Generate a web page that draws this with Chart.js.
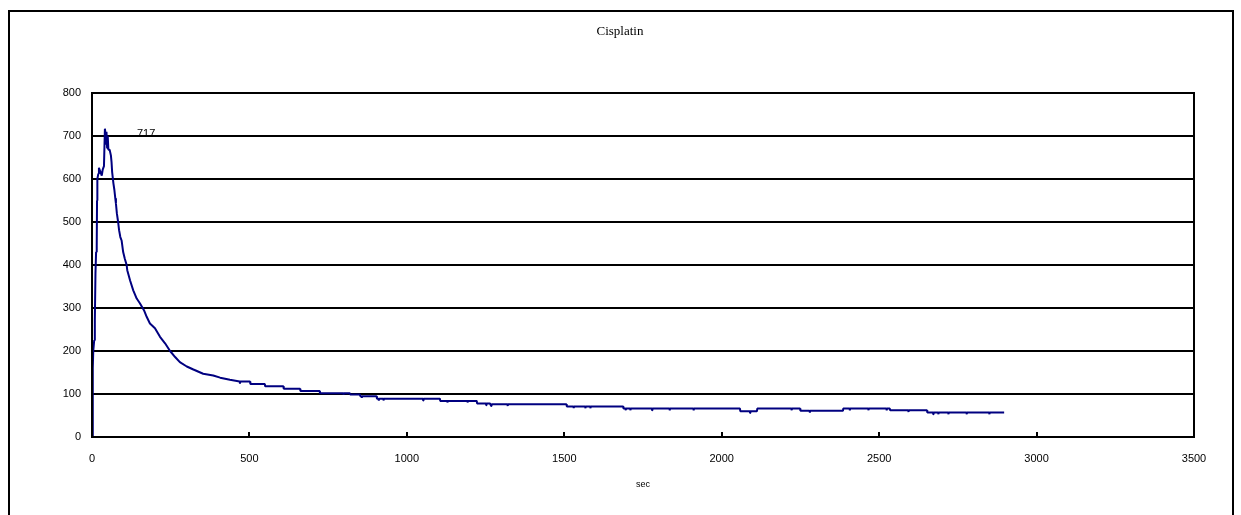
<!DOCTYPE html>
<html>
<head>
<meta charset="utf-8">
<script src="https://cdn.jsdelivr.net/npm/chart.js@4/dist/chart.umd.min.js"></script>
<style>
  html, body { margin: 0; padding: 0; background: #fff; }
  canvas { display: block; }
</style>
</head>
<body>
<canvas id="c" width="1241" height="515"></canvas>
<script>
// ---- Data ----
const chartTitle = 'Cisplatin';
const xAxisTitle = 'sec';
const xTicks = [0, 500, 1000, 1500, 2000, 2500, 3000, 3500];
const yTicks = [0, 100, 200, 300, 400, 500, 600, 700, 800];

const timeSec = [
  0, 2, 3, 4, 7, 9, 11, 13, 15, 16, 17, 20, 22, 26, 31, 34, 38, 41, 43, 44, 46, 48, 50, 52, 56,
  60, 62, 64, 68, 71, 74, 76, 79, 83, 86, 90, 94, 99, 104, 110, 112, 121, 131, 142, 152, 165,
  174, 184, 200, 216, 232, 248, 264, 279, 301, 322, 353, 385, 407, 438,
  469, 470, 471, 502, 503, 549, 550, 608, 609, 661, 662, 723, 724, 798, 799, 800, 819, 820,
  851, 852, 856, 857, 858, 904, 905, 910, 911, 912, 925, 926, 927, 1051, 1052, 1053, 1105, 1106,
  1128, 1129, 1130, 1192, 1193, 1194, 1222, 1223, 1251, 1252, 1253, 1264, 1265, 1267, 1268, 1269,
  1319, 1320, 1321, 1507, 1508, 1529, 1530, 1531, 1566, 1567, 1568, 1582, 1583, 1584, 1687, 1688,
  1694, 1695, 1696, 1709, 1710, 1711, 1778, 1779, 1780, 1834, 1835, 1836, 1910, 1911, 1912,
  2058, 2059, 2089, 2090, 2091, 2112, 2113, 2221, 2222, 2223, 2249, 2250, 2279, 2280, 2281,
  2385, 2386, 2406, 2407, 2408, 2465, 2466, 2467, 2523, 2524, 2525, 2534, 2535, 2592, 2593, 2594,
  2652, 2653, 2671, 2672, 2673, 2687, 2688, 2689, 2719, 2720, 2721, 2777, 2778, 2779,
  2849, 2850, 2851, 2897
];

const cisplatin = [
  0, 30, 160, 200, 225, 270, 380, 430, 445, 550, 600, 612, 626, 618, 608, 622, 630, 717, 705, 680, 710, 672, 700, 668, 668,
  655, 640, 616, 590, 575, 555, 543, 520, 500, 481, 465, 457, 430, 415, 400, 388, 364, 341, 322, 311, 295,
  279, 264, 253, 233, 218, 200, 186, 174, 164, 157, 147, 143, 138, 133,
  129, 124, 129, 129, 123, 123, 118, 118, 112, 112, 107, 107, 102, 102, 98, 102, 102, 99,
  99, 95, 95, 91, 95, 95, 89, 89, 85, 89, 89, 85, 89, 89, 85, 89, 89, 84,
  84, 80, 84, 84, 80, 84, 84, 78, 78, 74, 78, 78, 76, 76, 72, 76,
  76, 72, 76, 76, 71, 71, 67, 71, 71, 67, 71, 71, 67, 71, 71, 66,
  66, 62, 66, 66, 62, 66, 66, 62, 66, 66, 62, 66, 66, 62, 66,
  66, 60, 60, 56, 60, 60, 66, 66, 62, 66, 66, 61, 61, 57, 61,
  61, 66, 66, 62, 66, 66, 62, 66, 66, 62, 66, 66, 62, 62, 58, 62,
  62, 57, 57, 53, 57, 57, 53, 57, 57, 53, 57, 57, 53, 57,
  57, 53, 57, 57
];

const points = timeSec.map((t, i) => ({ x: t, y: cisplatin[i] }));

// ---- Plugin for frame, inward x ticks, title and peak label ----
const decor = {
  id: 'decor',
  beforeDraw(chart) {
    const ctx = chart.ctx;
    ctx.save();
    ctx.fillStyle = '#fff';
    ctx.fillRect(0, 0, chart.width, chart.height);
    ctx.restore();
  },
  afterDraw(chart) {
    const ctx = chart.ctx;
    const { left, top, right, bottom } = chart.chartArea;
    const xs = chart.scales.x;
    ctx.save();
    ctx.strokeStyle = '#000';
    ctx.lineWidth = 2;
    ctx.strokeRect(left, top, right - left, bottom - top);
    ctx.beginPath();
    xTicks.forEach(v => {
      const px = Math.round(xs.getPixelForValue(v));
      ctx.moveTo(px, bottom);
      ctx.lineTo(px, bottom - 5);
    });
    ctx.stroke();
    ctx.strokeRect(9, 11, 1224, 600);
    ctx.fillStyle = '#000';
    ctx.font = '13px "Liberation Serif"';
    ctx.textAlign = 'center';
    ctx.textBaseline = 'middle';
    ctx.fillText(chartTitle, 620, 32);
    let iMax = 0;
    cisplatin.forEach((v, i) => { if (v > cisplatin[iMax]) iMax = i; });
    const pt = chart.getDatasetMeta(0).data[iMax];
    ctx.font = '11px "Liberation Sans"';
    ctx.textAlign = 'left';
    ctx.fillText(String(cisplatin[iMax]), pt.x + 32, pt.y + 5);
    ctx.restore();
  }
};

new Chart(document.getElementById('c'), {
  type: 'line',
  data: {
    datasets: [{
      data: points,
      borderColor: '#000080',
      borderWidth: 2,
      borderJoinStyle: 'bevel',
      borderCapStyle: 'butt',
      pointRadius: 0,
      tension: 0,
      fill: false
    }]
  },
  options: {
    responsive: false,
    devicePixelRatio: 1,
    animation: false,
    layout: { padding: { top: 93, right: 47, bottom: 0, left: 0 } },
    plugins: {
      legend: { display: false },
      title: { display: false },
      tooltip: { enabled: false }
    },
    scales: {
      x: {
        type: 'linear',
        min: 0,
        max: 3500,
        afterFit(scale) { scale.height = 78; },
        afterBuildTicks(scale) { scale.ticks = xTicks.map(v => ({ value: v })); },
        grid: { display: false, drawTicks: false },
        border: { display: false },
        ticks: {
          padding: 15,
          color: '#000',
          font: { family: '"Liberation Sans"', size: 11 },
          maxRotation: 0,
          callback: v => String(v)
        },
        title: {
          display: true,
          text: xAxisTitle,
          color: '#000',
          font: { family: '"Liberation Sans"', size: 9 },
          padding: { top: 25, bottom: 25 }
        }
      },
      y: {
        type: 'linear',
        min: 0,
        max: 800,
        afterFit(scale) { scale.width = 92; },
        afterBuildTicks(scale) { scale.ticks = yTicks.map(v => ({ value: v })); },
        grid: { color: '#000', lineWidth: 2, drawTicks: false },
        border: { display: false },
        ticks: {
          padding: 11,
          color: '#000',
          font: { family: '"Liberation Sans"', size: 11 },
          callback: v => String(v)
        }
      }
    }
  },
  plugins: [decor]
});
</script>
</body>
</html>
